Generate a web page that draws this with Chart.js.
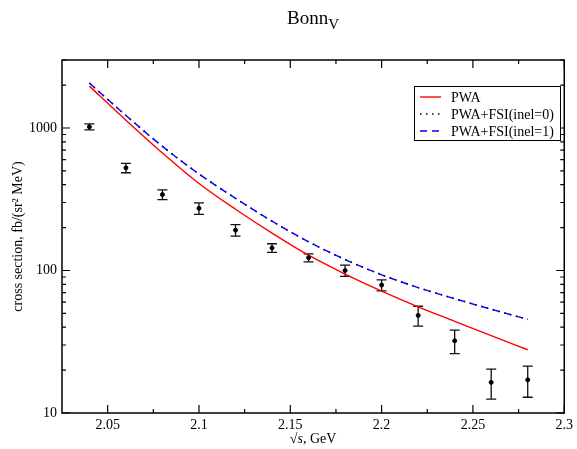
<!DOCTYPE html>
<html>
<head>
<meta charset="utf-8">
<script src="https://cdn.jsdelivr.net/npm/chart.js@4"></script>
<style>
html, body { margin: 0; padding: 0; background: #fff; }
#wrap { width: 577px; height: 449px; }
</style>
</head>
<body>
<div id="wrap"><canvas id="chart"></canvas></div>
<script>
// sqrt(s) values, GeV
const energies = [2.04, 2.06, 2.08, 2.10, 2.12, 2.14, 2.16, 2.18, 2.20, 2.22, 2.24, 2.26, 2.28];
// measured cross section and its error
const measured = [1020, 525, 341, 273, 192, 144, 123, 100, 79, 48.4, 32.1, 16.4, 17.1];
const errors   = [50, 40, 27, 25, 18, 10, 8, 9, 7, 7.7, 6, 3.9, 4.2];
// model curves
const pwa      = [1967, 1135, 667, 408, 269, 183, 128, 94.4, 71.6, 55.6, 44, 34.9, 27.8];
const fsiInel0 = [2066, 1225, 743, 476, 321, 222, 159, 119.4, 93.3, 75.9, 63.4, 53.5, 45.4];
const fsiInel1 = [2066, 1225, 743, 476, 321, 222, 159, 119.4, 93.3, 75.9, 63.4, 53.5, 45.4];

const xTicks = [2.05, 2.1, 2.15, 2.2, 2.25, 2.3];
const xMinor = [2.075, 2.125, 2.175, 2.225, 2.275];
const yTicks = [10, 100, 1000];

const FONT = "'Liberation Serif', 'DejaVu Serif', serif";

const pts = (ys) => energies.map((x, i) => ({ x: x, y: ys[i] }));

// frame, inward ticks, title, axis titles, legend and error bars
const decor = {
    id: 'decor',
    beforeDatasetsDraw(chart) {
        const { ctx, scales: { x, y } } = chart;
        ctx.save();
        ctx.strokeStyle = '#111';
        ctx.lineWidth = 1.3;
        energies.forEach((e, i) => {
            const px = x.getPixelForValue(e);
            const top = y.getPixelForValue(measured[i] + errors[i]);
            const bot = y.getPixelForValue(measured[i] - errors[i]);
            ctx.beginPath();
            ctx.moveTo(px, top); ctx.lineTo(px, bot);
            ctx.moveTo(px - 5, top); ctx.lineTo(px + 5, top);
            ctx.moveTo(px - 5, bot); ctx.lineTo(px + 5, bot);
            ctx.stroke();
        });
        ctx.restore();
    },
    afterDraw(chart) {
        const { ctx, chartArea: a, scales: { x, y } } = chart;
        ctx.save();

        // box
        ctx.strokeStyle = '#000';
        ctx.lineWidth = 1.5;
        ctx.strokeRect(a.left, a.top, a.right - a.left, a.bottom - a.top);

        // ticks
        ctx.lineWidth = 1.2;
        ctx.beginPath();
        const xt = (v, len) => {
            const p = x.getPixelForValue(v);
            ctx.moveTo(p, a.bottom); ctx.lineTo(p, a.bottom - len);
            ctx.moveTo(p, a.top); ctx.lineTo(p, a.top + len);
        };
        const yt = (v, len) => {
            const p = y.getPixelForValue(v);
            ctx.moveTo(a.left, p); ctx.lineTo(a.left + len, p);
            ctx.moveTo(a.right, p); ctx.lineTo(a.right - len, p);
        };
        xTicks.forEach(v => xt(v, 8));
        xMinor.forEach(v => xt(v, 4));
        yTicks.forEach(v => yt(v, 8));
        yTicks.forEach(d => {
            for (let m = 2; m <= 9; m++) {
                if (d * m <= y.max) yt(d * m, 4);
            }
        });
        ctx.stroke();

        // title Bonn_V
        ctx.fillStyle = '#000';
        ctx.textBaseline = 'alphabetic';
        ctx.textAlign = 'left';
        const cx = (a.left + a.right) / 2;
        ctx.font = '19px ' + FONT;
        const w1 = ctx.measureText('Bonn').width;
        ctx.font = '15px ' + FONT;
        const w2 = ctx.measureText('V').width;
        const tx = cx - (w1 + w2) / 2;
        ctx.font = '19px ' + FONT;
        ctx.fillText('Bonn', tx, 24);
        ctx.font = '15px ' + FONT;
        ctx.fillText('V', tx + w1, 29);

        // x title
        ctx.font = '14px ' + FONT;
        const p1 = '\u221A', p3 = ', GeV';
        const wa = ctx.measureText(p1).width;
        const wc = ctx.measureText(p3).width;
        ctx.font = 'italic 14px ' + FONT;
        const wb = ctx.measureText('s').width;
        let sx = cx - (wa + wb + wc) / 2;
        ctx.font = '14px ' + FONT;
        ctx.fillText(p1, sx, 443);
        ctx.font = 'italic 14px ' + FONT;
        ctx.fillText('s', sx + wa, 443);
        ctx.font = '14px ' + FONT;
        ctx.fillText(p3, sx + wa + wb, 443);

        // y title
        ctx.translate(22, (a.top + a.bottom) / 2);
        ctx.rotate(-Math.PI / 2);
        ctx.textAlign = 'center';
        ctx.font = '14px ' + FONT;
        ctx.fillText('cross section, fb/(sr\u00B2 MeV)', 0, 0);
        ctx.setTransform(1, 0, 0, 1, 0, 0);

        // legend
        const lx = 414, ly = 86, lw = 146, lh = 54;
        ctx.fillStyle = '#fff';
        ctx.fillRect(lx, ly, lw, lh);
        ctx.strokeStyle = '#000';
        ctx.lineWidth = 1;
        ctx.setLineDash([]);
        ctx.strokeRect(lx + 0.5, ly + 0.5, lw, lh);
        ctx.textAlign = 'left';
        ctx.textBaseline = 'middle';
        ctx.font = '14px ' + FONT;
        chart.data.datasets.filter(d => d.inLegend).forEach((d, i) => {
            const yy = ly + 11 + i * 17;
            ctx.strokeStyle = d.borderColor;
            ctx.lineWidth = d.borderWidth;
            ctx.setLineDash(d.borderDash || []);
            ctx.beginPath();
            ctx.moveTo(lx + 6, yy); ctx.lineTo(lx + 27, yy);
            ctx.stroke();
            ctx.setLineDash([]);
            ctx.fillStyle = '#000';
            ctx.fillText(d.label, lx + 37, yy + 1);
        });
        ctx.restore();
    }
};

new Chart(document.getElementById('chart'), {
    type: 'scatter',
    data: {
        datasets: [
            {
                label: 'PWA', inLegend: true, type: 'line', order: 1,
                data: pts(pwa), borderColor: '#ff0000', borderWidth: 1.4,
                pointRadius: 0, cubicInterpolationMode: 'monotone'
            },
            {
                label: 'PWA+FSI(inel=0)', inLegend: true, type: 'line', order: 3,
                data: pts(fsiInel0), borderColor: '#000', borderWidth: 1.6,
                borderDash: [1.5, 4.5], pointRadius: 0, cubicInterpolationMode: 'monotone'
            },
            {
                label: 'PWA+FSI(inel=1)', inLegend: true, type: 'line', order: 2,
                data: pts(fsiInel1), borderColor: '#0000ff', borderWidth: 1.4,
                borderDash: [7, 5], pointRadius: 0, cubicInterpolationMode: 'monotone'
            },
            {
                label: 'data', order: 0,
                data: pts(measured), backgroundColor: '#000', borderColor: '#000',
                pointRadius: 2, pointHoverRadius: 2
            }
        ]
    },
    options: {
        responsive: true,
        maintainAspectRatio: false,
        animation: false,
        events: [],
        layout: { padding: { top: 60, right: 11, left: 0, bottom: 0 } },
        plugins: { legend: { display: false }, tooltip: { enabled: false } },
        scales: {
            x: {
                type: 'linear', min: 2.025, max: 2.3,
                grid: { display: false, drawTicks: false },
                border: { display: false },
                afterBuildTicks: (s) => { s.ticks = xTicks.map(v => ({ value: v })); },
                afterFit: (s) => { s.height = 36; },
                ticks: {
                    color: '#000', padding: 4, maxRotation: 0,
                    font: { family: FONT, size: 14 },
                    callback: (v) => String(Number(v.toFixed(3)))
                }
            },
            y: {
                type: 'logarithmic', min: 10, max: 3000,
                grid: { display: false, drawTicks: false },
                border: { display: false },
                afterBuildTicks: (s) => { s.ticks = yTicks.map(v => ({ value: v })); },
                afterFit: (s) => { s.width = 62; },
                ticks: {
                    color: '#000', padding: 5,
                    font: { family: FONT, size: 14 },
                    callback: (v) => String(v)
                }
            }
        }
    },
    plugins: [decor]
});
</script>
</body>
</html>
